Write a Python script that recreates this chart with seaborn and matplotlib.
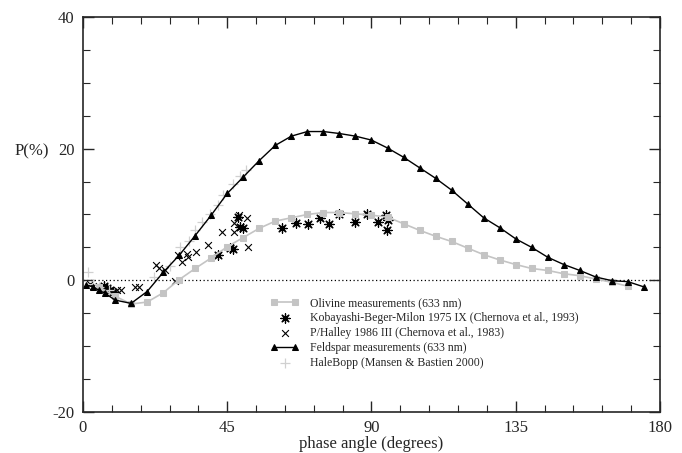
import numpy as np
import pandas as pd
import seaborn as sns
import matplotlib.pyplot as plt
from matplotlib.ticker import MultipleLocator

# datos
olivine_x = [5, 10, 15, 20, 25, 30, 35, 40, 45, 50, 55, 60, 65, 70, 75, 80, 85, 90,
             95, 100, 105, 110, 115, 120, 125, 130, 135, 140, 145, 150, 155, 160, 165, 170]
olivine_y = [-1.0, -2.4, -3.6, -3.3, -1.9, 0.1, 1.8, 3.4, 5.1, 6.5, 7.9, 9.0, 9.5, 10.0,
             10.3, 10.3, 10.1, 9.9, 9.6, 8.6, 7.6, 6.7, 5.9, 4.9, 3.9, 3.1, 2.4, 1.8, 1.5,
             1.0, 0.7, 0.2, -0.3, -0.9]

feldspar_x = [1, 3, 5, 7, 10, 15, 20, 25, 30, 35, 40, 45, 50, 55, 60, 65, 70, 75, 80, 85,
              90, 95, 100, 105, 110, 115, 120, 125, 130, 135, 140, 145, 150, 155, 160,
              165, 170, 175]
feldspar_y = [-0.7, -1.0, -1.5, -2.0, -3.0, -3.5, -1.7, 1.2, 3.8, 6.8, 9.9, 13.2, 15.7,
              18.2, 20.5, 21.9, 22.6, 22.6, 22.3, 21.9, 21.3, 20.1, 18.7, 17.1, 15.5, 13.7,
              11.6, 9.5, 8.0, 6.3, 5.0, 3.5, 2.4, 1.5, 0.5, -0.05, -0.2, -1.0]

kobayashi_x = [6.5, 7.5, 8.5, 9.3, 42.2, 45.8, 46.7, 48.4, 49.0, 50.0, 62.2, 66.3, 70.3,
               73.9, 76.8, 80.0, 84.8, 88.5, 92.1, 94.5, 95.3, 94.9]
kobayashi_y = [-0.9, -1.2, -1.5, -1.8, 3.9, 4.9, 4.7, 9.6, 8.1, 8.0, 8.0, 8.7, 8.6, 9.4,
               8.6, 10.0, 8.9, 10.0, 8.9, 9.9, 9.2, 7.7]

halley_x = [2.2, 3.2, 10.5, 12.0, 16.2, 17.6, 22.8, 23.8, 25.6, 28.6, 29.7, 30.8, 32.3,
            32.9, 35.2, 38.9, 43.5, 47.1, 47.1, 48.7, 51.2, 51.6]
halley_y = [-0.5, -0.8, -1.5, -1.5, -1.0, -1.0, 2.3, 1.8, 1.5, -0.1, 3.8, 2.8, 4.0, 3.5,
            4.3, 5.4, 7.3, 7.3, 8.7, 9.9, 9.5, 5.1]

halebopp_x = [1.5, 3.0, 5.0, 8.0, 22.0, 27.0, 30.3, 33.0, 34.9, 37.0, 39.6, 42.0, 43.8,
              46.9, 49.0, 51.0]
halebopp_y = [1.2, -0.5, -1.0, -1.5, 0.5, 2.2, 5.1, 6.0, 7.6, 8.8, 10.1, 11.5, 12.9,
              14.7, 15.8, 16.8]

sns.set_style("ticks")
plt.rcParams['font.family'] = ['Liberation Serif', 'DejaVu Serif']
plt.rcParams['axes.unicode_minus'] = False

fig = plt.figure(figsize=(6.82, 4.53), dpi=100)
ax = fig.add_axes([0.1217, 0.0905, 0.846, 0.872])

gris = "#c4c4c4"
sns.lineplot(x=olivine_x, y=olivine_y, ax=ax, color=gris, lw=1.2, marker="s",
             markersize=4.5, markeredgecolor=gris, label="Olivine measurements (633 nm)")
sns.scatterplot(x=kobayashi_x, y=kobayashi_y, ax=ax, color="black", marker=(8, 2, 0),
                s=45, linewidth=0.9, label="Kobayashi-Beger-Milon 1975 IX (Chernova et al., 1993)")
sns.scatterplot(x=halley_x, y=halley_y, ax=ax, color="black", marker="x", s=24,
                linewidth=0.8, label="P/Halley 1986 III (Chernova et al., 1983)")
sns.lineplot(x=feldspar_x, y=feldspar_y, ax=ax, color="black", lw=1.0, marker="^",
             markersize=4.5, markeredgecolor="black", label="Feldspar measurements (633 nm)")
sns.scatterplot(x=halebopp_x, y=halebopp_y, ax=ax, color="#d0d0d0", marker="+", s=55,
                linewidth=0.9, label="HaleBopp (Mansen & Bastien 2000)")

ax.axhline(0, color="black", ls=(0, (1, 2)), lw=0.9, zorder=0)

ax.set_xlim(0, 180)
ax.set_ylim(-20, 40)
ax.xaxis.set_major_locator(MultipleLocator(45))
ax.xaxis.set_minor_locator(MultipleLocator(9))
ax.yaxis.set_major_locator(MultipleLocator(20))
ax.yaxis.set_minor_locator(MultipleLocator(5))
ax.tick_params(which="both", direction="in", top=True, right=True, labelsize=12)
ax.tick_params(which="major", length=8, width=1.0, pad=6)
ax.tick_params(which="minor", length=5, width=0.8)
for s in ax.spines.values():
    s.set_linewidth(1.2)

ax.set_xlabel("phase angle (degrees)", fontsize=12, labelpad=0)
ax.set_ylabel("P(%)", fontsize=12, rotation=0)
ax.yaxis.set_label_coords(-0.088, 0.64)

ax.legend(loc="upper left", bbox_to_anchor=(0.315, 0.305), frameon=False, fontsize=8.5,
          handlelength=2.4, handletextpad=0.9, labelspacing=0.25, borderpad=0,
          numpoints=2, scatterpoints=1)

fig.savefig("out.png", dpi=100)
